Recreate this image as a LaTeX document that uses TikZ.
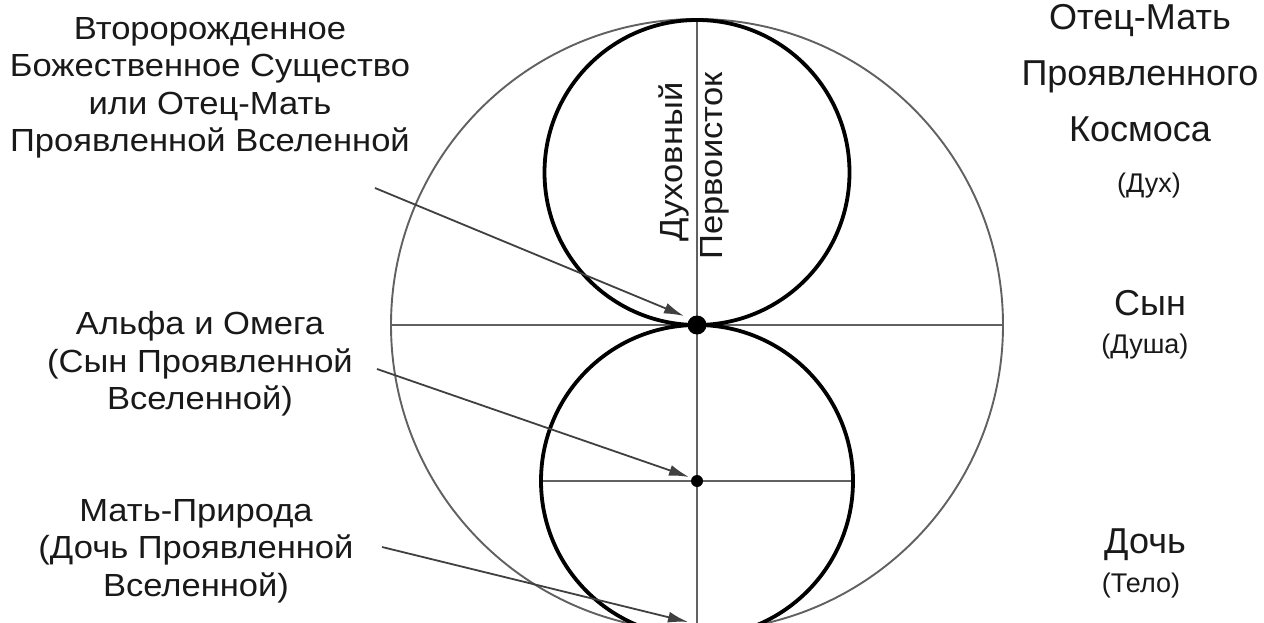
\documentclass[tikz,border=0pt]{standalone}
\usepackage{fontspec}
\setmainfont[FakeStretch=1.08]{Liberation Sans}
\newfontfamily\plainsans{Liberation Sans}
\usetikzlibrary{arrows.meta}
\begin{document}
\begin{tikzpicture}[x=1pt,y=-1pt,
  thinline/.style={draw=black!62, line width=1.9pt},
  thickline/.style={draw=black, line width=3.8pt},
  pointer/.style={draw=black!75, line width=1.8pt, -{Latex[length=20pt,width=11pt]}},
  lbl/.style={align=center, inner sep=0pt, text=black!90, font=\fontsize{32}{37.5}\selectfont},
  title/.style={align=center, inner sep=0pt, text=black!90, font=\plainsans\fontsize{36}{56}\selectfont},
  subtitle/.style={inner sep=0pt, text=black!90, font=\plainsans\fontsize{27}{30}\selectfont},
  vert/.style={inner sep=0pt, rotate=90, text=black!90, font=\fontsize{32}{36}\selectfont},
  dot/.style={circle, fill=black, inner sep=0pt}]
\useasboundingbox (0,0) rectangle (1264,623);
\fill[white] (0,0) rectangle (1264,623);
\clip (0,0) rectangle (1264,623);

% geometry
\coordinate (C) at (697,325);
\coordinate (L) at (391,325);
\coordinate (R) at (1003,325);
\coordinate (T) at (697,19);
\coordinate (B) at (697,640);
\coordinate (U) at (697,172.5);
\coordinate (D) at (697,481);
\coordinate (DL) at (541,481);
\coordinate (DR) at (853,481);

\draw[thinline] (C) circle[radius=306pt];
\draw[thinline] (L) -- (R);
\draw[thinline] (T) -- (B);
\draw[thinline] (DL) -- (DR);
\draw[thickline] (U) circle[radius=152.5pt];
\draw[thickline] (D) circle[radius=156pt];

\node[dot, minimum size=19pt] (bigdot) at (C) {};
\node[dot, minimum size=12pt] (smalldot) at (D) {};

% vertical labels
\node[vert] (dukh) at (674,162) {Духовный};
\node[vert] (perv) at (715,166) {Первоисток};

% left labels
\node[lbl] (second) at (210,88) {Второрожденное\\Божественное Существо\\или Отец-Мать\\Проявленной Вселенной};
\node[lbl] (alpha) at (200,364) {Альфа и Омега\\(Сын Проявленной\\Вселенной)};
\node[lbl] (mother) at (196,551) {Мать-Природа\\(Дочь Проявленной\\Вселенной)};

% right labels
\node[title] (father) at (1140,73) {Отец-Мать\\Проявленного\\Космоса};
\node[subtitle] (spirit) at (1149,186) {(Дух)};
\node[title] (son) at (1150,303) {Сын};
\node[subtitle] (soul) at (1145,347) {(Душа)};
\node[title] (daughter) at (1145,545) {Дочь};
\node[subtitle] (body) at (1141,586) {(Тело)};

% pointers
\coordinate (p1s) at (375,188);
\coordinate (p1e) at (684,316);
\coordinate (p2s) at (377,369);
\coordinate (p2e) at (689,477);
\coordinate (p3s) at (382,547);
\coordinate (p3e) at (688,622);
\draw[pointer] (p1s) -- (p1e);
\draw[pointer] (p2s) -- (p2e);
\draw[pointer] (p3s) -- (p3e);
\end{tikzpicture}
\end{document}
